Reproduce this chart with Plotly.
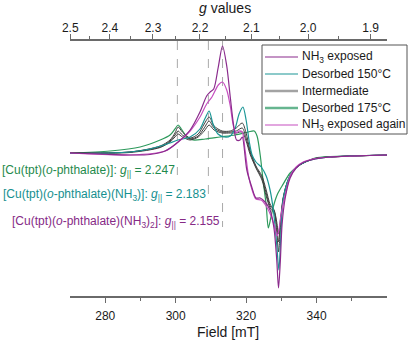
import plotly.graph_objects as go

# ---------------- data ----------------
FREQ_GHZ = 9.45            # microwave frequency used for g <-> field conversion
G_CONST = 71.4477          # B[mT] = G_CONST * nu[GHz] / g

field_nh3 = [270.0, 278.5, 287.0, 292.7, 297.0, 300.7, 304.1, 306.9, 308.8, 309.8, 310.8, 312.1, 313.3,
             314.5, 315.5, 316.4, 317.3, 318.3, 318.9, 320.2, 321.6, 322.8, 324.0, 325.4, 326.8, 327.9,
             328.7, 329.2, 329.7, 330.2, 331.1, 332.5, 334.2, 336.2, 339.6, 343.9, 349.5, 360.0]
int_nh3 = [1, 0, -1, -0.5, 3, 12, 24, 42, 58, 62, 65, 87, 108, 88, 57, 30, 14, 14, 17, -16, -33, -44,
           -44, -48, -56, -74, -106, -134, -108, -71, -44, -24, -14, -8.5, -5, -3, -2, -1]

field_again = [270.0, 287.0, 297.0, 300.7, 304.1, 306.9, 308.8, 310.3, 312.1, 313.3, 314.5, 315.5, 316.4,
               317.2, 318.0, 318.9, 319.7, 320.7, 321.7, 322.8, 324.3, 325.7, 327.2, 328.2, 328.8, 329.3,
               329.9, 331.1, 332.5, 334.2, 336.2, 339.6, 343.9, 360.0]
int_again = [1, -1, 3, 12, 23, 37, 50, 57, 69, 72, 64, 48, 28, 21, 23, 22, 4, -22, -36, -45, -46, -52,
             -63, -74, -82, -76, -61, -41, -22, -13, -8, -4.5, -3, -1]

field_150 = [270.0, 287.0, 292.7, 298.4, 300.7, 304.1, 306.9, 308.4, 309.5, 310.6, 312.0, 313.8, 315.5,
             316.9, 318.0, 319.1, 320.0, 320.9, 321.7, 322.8, 324.3, 325.7, 326.8, 327.8, 328.7, 329.3,
             329.8, 330.5, 331.7, 333.1, 334.8, 336.8, 339.6, 343.9, 360.0]
int_150 = [0.5, 2, 5, 11, 14, 17, 25, 36, 43, 30, 20, 17, 18, 26, 40, 47, 34, 12, -1, -8, -13, -22, -36,
           -58, -91, -116, -86, -46, -28, -18, -12, -8, -5, -3, -1]

field_175 = [270.0, 281.4, 289.9, 295.6, 298.4, 299.8, 300.7, 301.6, 303.0, 304.9, 308.4, 312.6, 316.9,
             320.6, 322.3, 323.1, 324.0, 324.8, 325.7, 326.3, 327.0, 327.7, 328.8, 330.2, 332.5, 334.8,
             336.8, 339.6, 343.9, 360.0]
int_175 = [1, 3, 7, 14, 19, 25, 29, 25, 18, 14, 15, 17, 19, 22, 23, 18, -1, -26, -51, -74, -64, -53,
           -41, -32, -19, -12, -8, -4, -2.5, -1]

field_inter = [270.0, 287.0, 295.6, 298.4, 299.8, 300.7, 301.9, 304.1, 306.4, 308.1, 309.5, 310.9, 313.2,
               315.5, 317.2, 318.9, 320.0, 321.1, 322.8, 324.5, 325.7, 326.8, 327.95, 328.7, 329.2, 329.8,
               330.5, 331.7, 333.1, 334.8, 336.8, 339.6, 343.9, 360.0]
int_inter_a = [1, 2, 8, 14, 21, 27, 22, 16, 20, 30, 37, 28, 23, 23, 26, 31, 21, 4, -12, -22, -36, -50,
               -56, -68, -80, -64, -44, -28, -18, -12, -8, -4.5, -3, -1]
int_inter_b = [1, 2, 7, 13, 19, 23, 19, 15, 18, 26, 33, 26, 22, 22, 23, 26, 16, 2, -13, -24, -39, -52,
               -57, -72, -88, -68, -45, -28, -18, -12, -8, -4.5, -3, -1]
int_inter_c = [1, 1.5, 6.5, 12, 17, 20, 17, 14, 17, 23, 29, 24, 21, 21, 21, 22, 13, 0, -14, -26, -42, -54,
               -59, -78, -98, -72, -46, -29, -18, -12, -8, -4.5, -3, -1]

field_ticks = [280, 300, 320, 340]
field_minor = [290, 310, 330, 350]
g_ticks = [2.5, 2.4, 2.3, 2.2, 2.1, 2.0, 1.9]
g_tick_labels = ["2.5", "2.4", "2.3", "2.2", "2.1", "2.0", "1.9"]
g_minor = [2.45, 2.35, 2.25, 2.15, 2.05, 1.95]

g_species = [2.247, 2.183, 2.155]
species_labels = [
    "[Cu(tpt)(<i>o</i>-phthalate)]: <i>g</i><sub>||</sub> = 2.247",
    "[Cu(tpt)(<i>o</i>-phthalate)(NH<sub>3</sub>)]: <i>g</i><sub>||</sub> = 2.183",
    "[Cu(tpt)(<i>o</i>-phthalate)(NH<sub>3</sub>)<sub>2</sub>]: <i>g</i><sub>||</sub> = 2.155",
]
species_label_y = [-17, -41, -68]
species_line_end = [-21, -49, -73]

legend_names = ["NH<sub>3</sub> exposed", "Desorbed 150°C", "Intermediate", "Desorbed 175°C",
                "NH<sub>3</sub> exposed again"]

# ---------------- styles ----------------
C_NH3 = "#8A2A8C"
C_150 = "#1B9696"
C_INT = "#404040"
C_175 = "#2E9A5C"
C_AGAIN = "#C64FC0"
FONT = "Liberation Sans, Arial, Helvetica, sans-serif"

L, R, T, B = 70, 24, 41, 45
W, H = 411, 341
PW, PH = W - L - R, H - T - B


def px_x(p):
    return (p - L) / PW


def px_y(p):
    return (H - B - p) / PH


def g_to_field(g):
    return G_CONST * FREQ_GHZ / g


fig = go.Figure()

curves = [
    (field_175, int_175, C_175, 1.2),
    (field_inter, int_inter_c, C_INT, 1.0),
    (field_inter, int_inter_b, C_INT, 1.0),
    (field_inter, int_inter_a, C_INT, 1.0),
    (field_150, int_150, C_150, 1.2),
    (field_again, int_again, C_AGAIN, 1.2),
    (field_nh3, int_nh3, C_NH3, 1.2),
]
for fx, fy, col, w in curves:
    fig.add_trace(go.Scatter(x=fx, y=fy, mode="lines", showlegend=False, hoverinfo="skip",
                             line=dict(color=col, width=w, shape="spline", smoothing=0.8)))

# dummy trace for top axis
fig.add_trace(go.Scatter(x=[None], y=[None], xaxis="x2", showlegend=False, hoverinfo="skip"))

# dashed marker lines + labels
label_colors = ["#1F8A4C", "#16908F", "#862A86"]
for g, lab, ly, yend, col in zip(g_species, species_labels, species_label_y, species_line_end, label_colors):
    b = g_to_field(g)
    fig.add_shape(type="line", xref="x", yref="y", x0=b, x1=b, y0=113, y1=yend,
                  line=dict(color="#aaaaaa", width=1, dash="dash"), layer="below")
    fig.add_annotation(x=b - 0.3, y=ly, xref="x", yref="y", text=lab, showarrow=False,
                       xanchor="right", yanchor="middle", borderpad=0,
                       font=dict(size=12, color=col, family=FONT))

# legend box drawn by hand
leg_colors = [C_NH3, C_150, "#a3a3a3", "#66b58f", C_AGAIN]
leg_widths = [1.2, 1.2, 2.5, 2.5, 1.2]
leg_rows_px = [57, 74, 91, 108, 125]
fig.add_shape(type="rect", xref="paper", yref="paper", x0=px_x(262), x1=px_x(407),
              y0=px_y(134), y1=px_y(45), line=dict(color="#555555", width=1), fillcolor="white",
              layer="above")
for name, col, w, ry in zip(legend_names, leg_colors, leg_widths, leg_rows_px):
    fig.add_shape(type="line", xref="paper", yref="paper", x0=px_x(265), x1=px_x(298),
                  y0=px_y(ry), y1=px_y(ry), line=dict(color=col, width=w), layer="above")
    fig.add_annotation(x=px_x(301), y=px_y(ry), xref="paper", yref="paper", text=name,
                       showarrow=False, xanchor="left", yanchor="middle", borderpad=0,
                       font=dict(size=12, color="#1a1a1a", family=FONT))

# axis titles
fig.add_annotation(x=px_x(228), y=px_y(332), xref="paper", yref="paper", text="Field [mT]",
                   showarrow=False, xanchor="center", yanchor="middle",
                   font=dict(size=14, color="#1a1a1a", family=FONT))
fig.add_annotation(x=px_x(225), y=px_y(8), xref="paper", yref="paper", text="<i>g</i> values",
                   showarrow=False, xanchor="center", yanchor="middle",
                   font=dict(size=14, color="#1a1a1a", family=FONT))

axis_col = "#6a6a6a"
fig.update_layout(
    width=W, height=H,
    margin=dict(l=L, r=R, t=T, b=B, autoexpand=False),
    plot_bgcolor="white", paper_bgcolor="white",
    font=dict(family=FONT, size=12, color="#1a1a1a"),
    xaxis=dict(range=[270, 360], showline=True, linecolor=axis_col, linewidth=1.5,
               ticks="outside", ticklen=5, tickwidth=1.2, tickcolor=axis_col,
               tickmode="array", tickvals=field_ticks, automargin=False, ticklabelstandoff=3,
               minor=dict(tickmode="array", tickvals=field_minor, ticklen=3, ticks="outside",
                          tickcolor=axis_col, tickwidth=1.2),
               showgrid=False, zeroline=False),
    xaxis2=dict(range=[270, 360], overlaying="x", side="top", anchor="y",
                showline=True, linecolor=axis_col, linewidth=1.5, automargin=False,
                ticks="outside", ticklen=5, tickwidth=1.2, tickcolor=axis_col, ticklabelstandoff=-3,
                tickmode="array", tickvals=[g_to_field(g) for g in g_ticks], ticktext=g_tick_labels,
                minor=dict(tickmode="array", tickvals=[g_to_field(g) for g in g_minor], ticklen=3,
                           ticks="outside", tickcolor=axis_col, tickwidth=1.2),
                showgrid=False, zeroline=False),
    yaxis=dict(range=[-142, 113], visible=False, showgrid=False, zeroline=False, automargin=False),
    showlegend=False,
)

fig.write_html("out.html", config={"displayModeBar": False},
               post_script="document.body.style.margin='0px';")
